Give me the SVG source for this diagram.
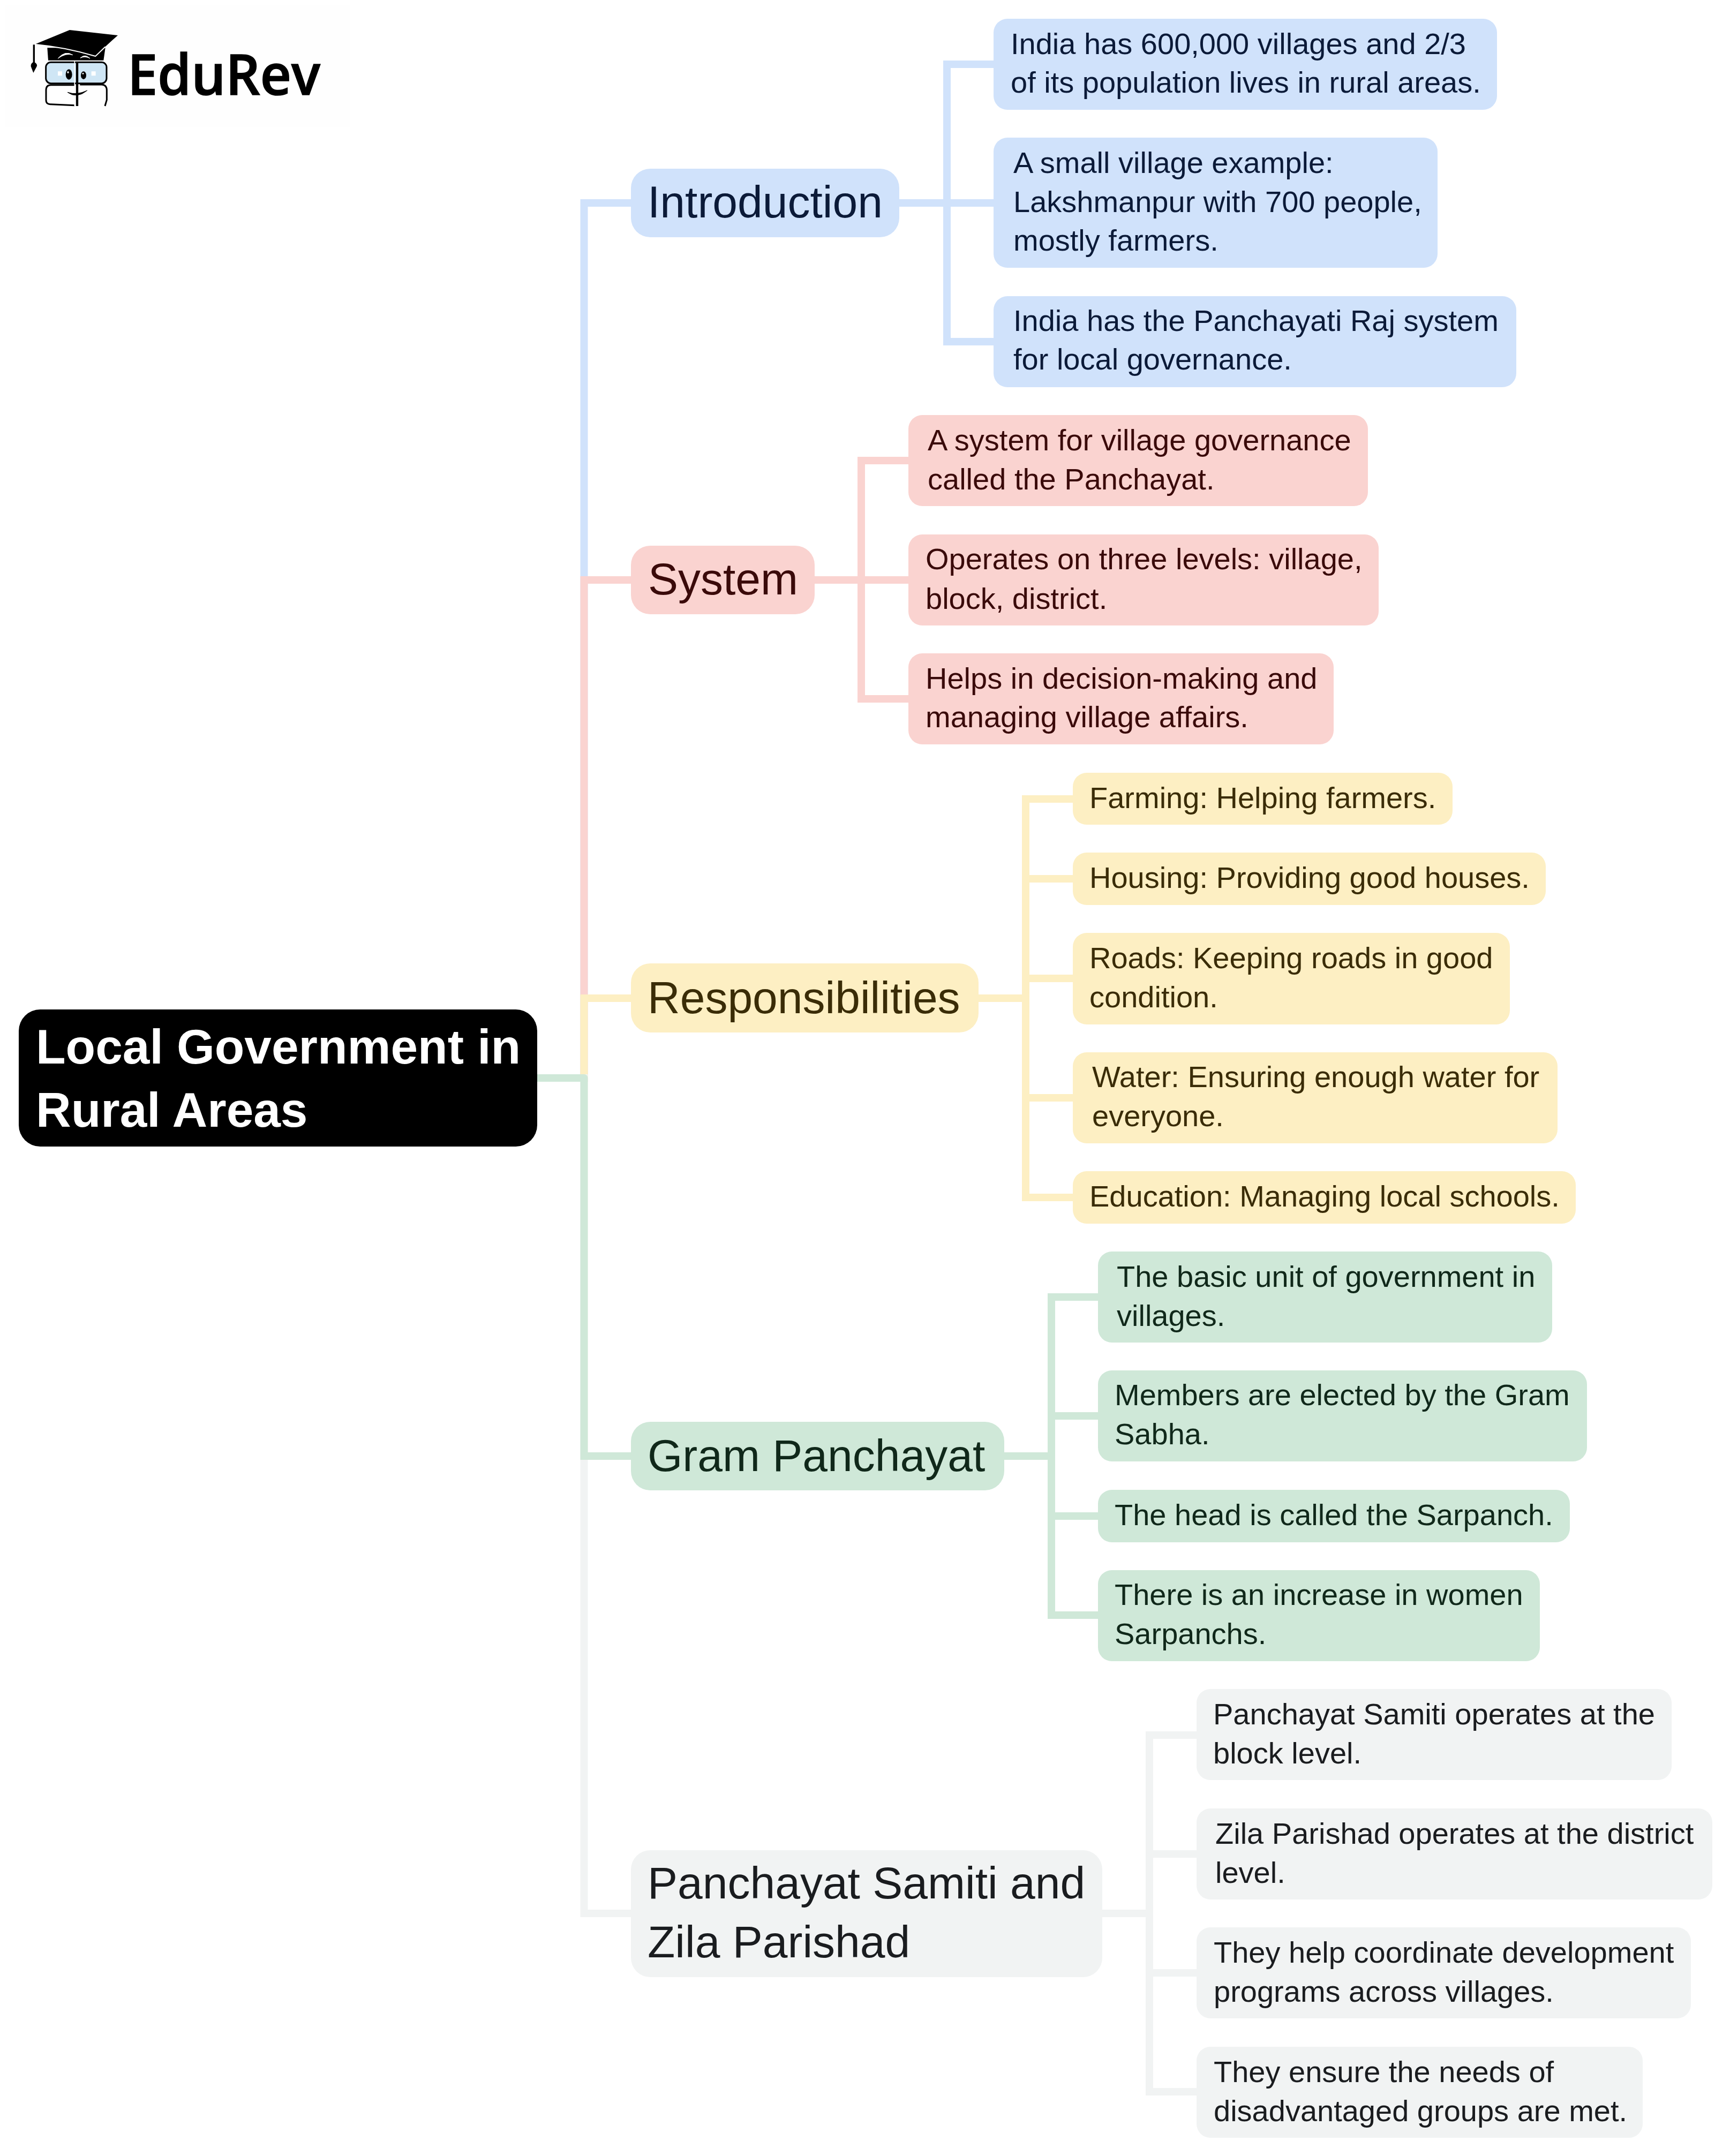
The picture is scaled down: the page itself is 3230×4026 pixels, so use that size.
<svg xmlns="http://www.w3.org/2000/svg" width="3230" height="4026" viewBox="0 0 3230 4026">
<style>
text{font-family:"Liberation Sans",Arial,sans-serif}
.leaf{font-size:56px}.branch{font-size:84px}.root{font-size:91px;font-weight:700;fill:#fff}
.c{fill:none;stroke-width:14;stroke-linejoin:miter}
.bl{fill:#d0e2fb}.bt{fill:#0b1a38}.bs{stroke:#d0e2fb}
.rd{fill:#fad3d0}.rt{fill:#3a0a0a}.rs{stroke:#fad3d0}
.ye{fill:#fdefc3}.yt{fill:#3a2c07}.ys{stroke:#fdefc3}
.gr{fill:#cfe8d8}.gt{fill:#10281a}.gs{stroke:#cfe8d8}
.ny{fill:#f1f3f3}.nt{fill:#1a1c1f}.ns{stroke:#f1f3f3}
</style>
<rect width="3230" height="4026" fill="#fff"/>
<g id="logo">
<rect x="9" y="10" width="645" height="227" fill="#fefefe"/>
<g transform="translate(40 40) scale(.3333)">
<path d="M145 148L150 218H460L470 148Z" fill="#000"/>
<path d="M270 48L540 78Q480 130 415 195Q250 145 75 128Z" fill="#000"/>
<path d="M75 128Q250 145 415 195L470 142" fill="none" stroke="#fff" stroke-width="6"/>
<path d="M70 130V232" stroke="#000" stroke-width="10" fill="none"/>
<path d="M70 226Q92 240 86 252L67 288L53 252Q50 236 70 226Z" fill="#000"/>
<path d="M205 207Q245 160 288 188Q250 175 205 207ZM330 205Q355 180 384 207Q355 192 330 205Z" fill="#fff" stroke="#fff" stroke-width="3"/>
<rect x="137" y="229" width="340" height="118" rx="28" fill="#cfe6f5" stroke="#000" stroke-width="9"/>
<path d="M300 356H165Q138 356 138 385V440Q138 466 165 464L298 470" fill="#fff" stroke="#000" stroke-width="9"/>
<path d="M328 354H450Q478 356 478 385V440L468 474" fill="none" stroke="#000" stroke-width="9"/>
<path d="M312 228V474" stroke="#000" stroke-width="13" fill="none"/>
<path d="M298 222V474" stroke="#fff" stroke-width="5" fill="none"/>
<ellipse cx="266" cy="297" rx="18" ry="29" fill="#000"/><ellipse cx="348" cy="302" rx="15" ry="22" fill="#000"/>
<ellipse cx="261" cy="285" rx="5" ry="6" fill="#fff"/><ellipse cx="345" cy="292" rx="4" ry="5" fill="#fff"/>
<path d="M204 280h24v24h-24zM392 280h24v24h-24z" fill="#fff"/>
<path d="M258 397Q310 435 368 387Q310 415 258 397Z" fill="#000" stroke="#000" stroke-width="3"/>
</g>
<text x="238" y="177" font-size="105" font-weight="600" fill="#000" stroke="#000" stroke-width="1.5" textLength="360" lengthAdjust="spacingAndGlyphs" style="font-family:'Open Sans',sans-serif">EduRev</text>
</g>
<g id="connectors">
<path class="c bs" d="M1003 2013H1090.5V379H1179"/>
<path class="c rs" d="M1003 2013H1090.5V1083H1179"/>
<path class="c ys" d="M1003 2013H1090.5V1864H1179"/>
<path class="c ns" d="M1003 2013H1090.5V3573H1179"/>
<path class="c gs" d="M1090.5 2100V2719H1179"/>
<path class="c gs" style="stroke-linejoin:round" d="M1003 2013H1090.5V2100"/>
<path class="c bs" d="M1679 379H1768M1855 120H1768V638H1855M1768 379H1855"/>
<path class="c rs" d="M1521 1083H1608M1696 860H1608V1305H1696M1608 1083H1696"/>
<path class="c ys" d="M1827 1864H1915M2003 1492H1915V2236H2003M1915 1641H2003M1915 1827H2003M1915 2050H2003"/>
<path class="c gs" d="M1875 2719H1963M2050 2422H1963V3016H2050M1963 2644H2050M1963 2831H2050"/>
<path class="c ns" d="M2058 3573H2146M2234 3240H2146V3906H2234M2146 3462H2234M2146 3684H2234"/>
</g>
<g id="root"><rect x="35" y="1885" width="968" height="256" rx="40" fill="#000"/><text class="root"><tspan x="67" y="1986">Local Government in</tspan><tspan x="67" y="2104">Rural Areas</tspan></text></g>

<g id="introduction"><rect class="bl" x="1178" y="315" width="501" height="128" rx="36"/><text class="branch bt" x="1209" y="406">Introduction</text></g>
<g id="intro-1"><rect class="bl" x="1855" y="35" width="940" height="170" rx="26"/><text class="leaf bt"><tspan x="1887" y="101">India has 600,000 villages and 2/3</tspan><tspan x="1887" y="173">of its population lives in rural areas.</tspan></text></g>
<g id="intro-2"><rect class="bl" x="1855" y="257" width="829" height="243" rx="26"/><text class="leaf bt"><tspan x="1892" y="323">A small village example:</tspan><tspan x="1892" y="396">Lakshmanpur with 700 people,</tspan><tspan x="1892" y="468">mostly farmers.</tspan></text></g>
<g id="intro-3"><rect class="bl" x="1855" y="553" width="976" height="170" rx="26"/><text class="leaf bt"><tspan x="1892" y="618">India has the Panchayati Raj system</tspan><tspan x="1892" y="690">for local governance.</tspan></text></g>

<g id="system"><rect class="rd" x="1178" y="1019" width="343" height="128" rx="36"/><text class="branch rt" x="1210" y="1110">System</text></g>
<g id="system-1"><rect class="rd" x="1696" y="775" width="858" height="170" rx="26"/><text class="leaf rt"><tspan x="1732" y="841">A system for village governance</tspan><tspan x="1732" y="914">called the Panchayat.</tspan></text></g>
<g id="system-2"><rect class="rd" x="1696" y="998" width="878" height="170" rx="26"/><text class="leaf rt"><tspan x="1728" y="1063">Operates on three levels: village,</tspan><tspan x="1728" y="1137">block, district.</tspan></text></g>
<g id="system-3"><rect class="rd" x="1696" y="1220" width="794" height="170" rx="26"/><text class="leaf rt"><tspan x="1728" y="1286">Helps in decision-making and</tspan><tspan x="1728" y="1358">managing village affairs.</tspan></text></g>

<g id="responsibilities"><rect class="ye" x="1178" y="1799" width="649" height="129" rx="36"/><text class="branch yt" x="1209" y="1892">Responsibilities</text></g>
<g id="resp-1"><rect class="ye" x="2003" y="1443" width="709" height="97" rx="26"/><text class="leaf yt" x="2034" y="1509">Farming: Helping farmers.</text></g>
<g id="resp-2"><rect class="ye" x="2003" y="1592" width="883" height="98" rx="26"/><text class="leaf yt" x="2034" y="1658">Housing: Providing good houses.</text></g>
<g id="resp-3"><rect class="ye" x="2003" y="1742" width="816" height="171" rx="26"/><text class="leaf yt"><tspan x="2034" y="1808">Roads: Keeping roads in good</tspan><tspan x="2034" y="1881">condition.</tspan></text></g>
<g id="resp-4"><rect class="ye" x="2003" y="1965" width="905" height="170" rx="26"/><text class="leaf yt"><tspan x="2039" y="2030">Water: Ensuring enough water for</tspan><tspan x="2039" y="2103">everyone.</tspan></text></g>
<g id="resp-5"><rect class="ye" x="2003" y="2187" width="939" height="98" rx="26"/><text class="leaf yt" x="2034" y="2253">Education: Managing local schools.</text></g>

<g id="gram-panchayat"><rect class="gr" x="1178" y="2655" width="697" height="128" rx="36"/><text class="branch gt" x="1209" y="2747">Gram Panchayat</text></g>
<g id="gram-1"><rect class="gr" x="2050" y="2337" width="848" height="170" rx="26"/><text class="leaf gt"><tspan x="2085" y="2403">The basic unit of government in</tspan><tspan x="2085" y="2476">villages.</tspan></text></g>
<g id="gram-2"><rect class="gr" x="2050" y="2559" width="913" height="170" rx="26"/><text class="leaf gt"><tspan x="2081" y="2624">Members are elected by the Gram</tspan><tspan x="2081" y="2697">Sabha.</tspan></text></g>
<g id="gram-3"><rect class="gr" x="2050" y="2782" width="881" height="98" rx="26"/><text class="leaf gt" x="2081" y="2848">The head is called the Sarpanch.</text></g>
<g id="gram-4"><rect class="gr" x="2050" y="2932" width="825" height="170" rx="26"/><text class="leaf gt"><tspan x="2081" y="2997">There is an increase in women</tspan><tspan x="2081" y="3070">Sarpanchs.</tspan></text></g>

<g id="samiti-zila"><rect class="ny" x="1178" y="3455" width="880" height="237" rx="36"/><text class="branch nt"><tspan x="1209" y="3545">Panchayat Samiti and</tspan><tspan x="1209" y="3655">Zila Parishad</tspan></text></g>
<g id="samiti-1"><rect class="ny" x="2234" y="3154" width="887" height="170" rx="26"/><text class="leaf nt"><tspan x="2265" y="3220">Panchayat Samiti operates at the</tspan><tspan x="2265" y="3293">block level.</tspan></text></g>
<g id="samiti-2"><rect class="ny" x="2234" y="3377" width="963" height="170" rx="26"/><text class="leaf nt"><tspan x="2269" y="3443">Zila Parishad operates at the district</tspan><tspan x="2269" y="3516">level.</tspan></text></g>
<g id="samiti-3"><rect class="ny" x="2234" y="3599" width="923" height="170" rx="26"/><text class="leaf nt"><tspan x="2266" y="3665">They help coordinate development</tspan><tspan x="2266" y="3738">programs across villages.</tspan></text></g>
<g id="samiti-4"><rect class="ny" x="2234" y="3822" width="833" height="170" rx="26"/><text class="leaf nt"><tspan x="2266" y="3888">They ensure the needs of</tspan><tspan x="2266" y="3961">disadvantaged groups are met.</tspan></text></g>
</svg>
